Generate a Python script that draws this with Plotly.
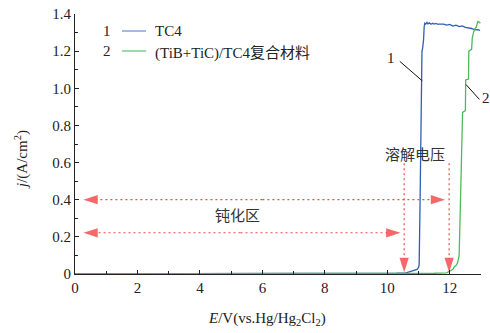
import plotly.graph_objects as go

# ---- data ----
tc4_E = [0, 2, 4, 6, 8, 10, 10.3, 10.6, 10.8, 10.95, 11.0, 11.02, 11.05, 11.08, 11.11, 11.13,
         11.16, 11.18, 11.2, 11.23, 11.27, 11.3, 11.35, 11.4, 11.45, 11.5, 11.55, 11.6, 11.7,
         11.8, 11.9, 12.0, 12.1, 12.2, 12.3, 12.4, 12.5, 12.6, 12.7, 12.8, 12.9, 12.97]
tc4_j = [0, 0, 0.001, 0.002, 0.002, 0.003, 0.004, 0.006, 0.015, 0.025, 0.035, 0.05, 0.4, 0.9,
         1.2, 1.215, 1.26, 1.33, 1.35, 1.346, 1.355, 1.347, 1.352, 1.345, 1.35, 1.346, 1.349,
         1.346, 1.347, 1.345, 1.34, 1.344, 1.335, 1.34, 1.332, 1.336, 1.328, 1.326, 1.322,
         1.315, 1.316, 1.312]

comp_E = [0, 2, 4, 6, 8, 10, 11, 11.5, 11.9, 12.0, 12.1, 12.15, 12.2, 12.25, 12.3, 12.33,
          12.36, 12.38, 12.4, 12.41, 12.5, 12.51, 12.6, 12.61, 12.7, 12.72, 12.76, 12.8,
          12.85, 12.9, 12.95, 12.98]
comp_j = [0, 0, 0, 0, 0, 0.001, 0.002, 0.004, 0.006, 0.015, 0.025, 0.04, 0.045, 0.06, 0.1,
          0.3, 0.55, 0.57, 0.85, 0.87, 0.88, 1.045, 1.05, 1.2, 1.21, 1.27, 1.3, 1.32, 1.33,
          1.36, 1.355, 1.35]

series_names = ["TC4", "(TiB+TiC)/TC4复合材料"]
series_labels = ["1", "2"]
x_ticks = [0, 2, 4, 6, 8, 10, 12]
y_ticks = [0, 0.2, 0.4, 0.6, 0.8, 1.0, 1.2, 1.4]
y_ticktext = ["0", "0.2", "0.4", "0.6", "0.8", "1.0", "1.2", "1.4"]

BLUE = "#2f5fb5"
GREEN = "#4dbb5c"
RED = "#ee2a2a"
SERIF = "Liberation Serif, serif"
CJK = "Noto Sans CJK SC, sans-serif"
TXT = "#222222"

# plot-area pixel geometry (used to place paper-referenced legend/title text)
L, R, T, B = 75, 481, 14, 274


def px_x(p):
    return (p - L) / (R - L)


def px_y(p):
    return (B - p) / (B - T)


def cjk_wrap(s):
    # render CJK characters with a CJK font, Latin with the serif font
    out = []
    for ch in s:
        if ord(ch) > 0x2E80:
            out.append("<span style='font-family:Noto Sans CJK SC'>" + ch + "</span>")
        else:
            out.append(ch)
    return "".join(out)


fig = go.Figure()
fig.add_trace(go.Scatter(x=tc4_E, y=tc4_j, mode="lines", line=dict(color=BLUE, width=1.3),
                         name=series_names[0], showlegend=False))
fig.add_trace(go.Scatter(x=comp_E, y=comp_j, mode="lines", line=dict(color=GREEN, width=1.3),
                         name=series_names[1], showlegend=False))

# dashed red arrows: (start, tip)
arrows = [
    ((6.0, 0.4), (0.27, 0.4)), ((6.0, 0.4), (11.85, 0.4)),
    ((5.3, 0.222), (0.27, 0.222)), ((5.3, 0.222), (10.42, 0.222)),
    ((10.54, 0.597), (10.54, 0.01)), ((11.98, 0.597), (11.98, 0.01)),
]
for (x0, y0), (x1, y1) in arrows:
    fig.add_trace(go.Scatter(
        x=[x0, x1], y=[y0, y1], mode="lines+markers", showlegend=False, hoverinfo="skip",
        line=dict(color="#f24a4a", width=1.2, dash="2px,3px"),
        marker=dict(symbol="arrow", size=[0, 15], angleref="previous", color=RED,
                    line=dict(width=0))))

# text labels
fig.add_annotation(x=10.9, y=0.65, xref="x", yref="y", text="溶解电压", showarrow=False,
                   font=dict(family=CJK, size=15, color="#333"))
fig.add_annotation(x=5.2, y=0.322, xref="x", yref="y", text="钝化区", showarrow=False,
                   font=dict(family=CJK, size=15, color="#333"))

# curve labels with leader lines
fig.add_shape(type="line", x0=10.4, y0=1.145, x1=11.12, y1=1.04, xref="x", yref="y",
              line=dict(color="#111", width=1))
fig.add_annotation(x=10.12, y=1.165, xref="x", yref="y", text=series_labels[0],
                   showarrow=False, font=dict(family=SERIF, size=15, color=TXT))
fig.add_shape(type="line", x0=12.52, y0=1.02, x1=12.95, y1=0.94, xref="x", yref="y",
              line=dict(color="#111", width=1))
fig.add_annotation(x=px_x(486), y=px_y(98), xref="paper", yref="paper",
                   xanchor="center", yanchor="middle", text=series_labels[1],
                   showarrow=False, font=dict(family=SERIF, size=15, color=TXT))

# custom legend
leg = [(series_labels[0], series_names[0], "#86a3d8", 31),
       (series_labels[1], series_names[1], "#7fcf8c", 51)]
for num, name, col, ypx in leg:
    yp = px_y(ypx)
    fig.add_annotation(x=px_x(107), y=yp, xref="paper", yref="paper", text=num,
                       xanchor="center", yanchor="middle", showarrow=False,
                       font=dict(family=SERIF, size=15, color=TXT))
    fig.add_shape(type="line", x0=px_x(122), x1=px_x(146), y0=yp, y1=yp,
                  xref="paper", yref="paper", line=dict(color=col, width=1.5))
    fig.add_annotation(x=px_x(153), y=yp, xref="paper", yref="paper", text=cjk_wrap(name),
                       showarrow=False, xanchor="left", yanchor="middle",
                       font=dict(family=SERIF, size=15, color=TXT))

# axis titles
fig.add_annotation(x=px_x(267), y=px_y(319), xref="paper", yref="paper",
                   xanchor="center", yanchor="middle",
                   text="<i>E</i>/V(vs.Hg/Hg<sub>2</sub>Cl<sub>2</sub>)", showarrow=False,
                   font=dict(family=SERIF, size=15, color=TXT))
fig.add_annotation(x=px_x(21), y=px_y(160), xref="paper", yref="paper",
                   xanchor="center", yanchor="middle",
                   text="<i>j</i>/(A/cm<sup>2</sup>)", showarrow=False, textangle=-90,
                   font=dict(family=SERIF, size=15, color=TXT))

fig.update_xaxes(range=[0, 13], tickvals=x_ticks, ticks="inside", ticklen=4, tickwidth=1,
                 tickcolor=TXT, showline=True, linecolor=TXT, linewidth=1,
                 showgrid=False, zeroline=False, automargin=False,
                 minor=dict(dtick=1, ticks="inside", ticklen=3, tickcolor=TXT),
                 tickfont=dict(family=SERIF, size=15, color=TXT))
fig.update_yaxes(range=[0, 1.4], tickvals=y_ticks, ticktext=y_ticktext, ticks="inside",
                 ticklen=4, tickwidth=1, tickcolor=TXT, showline=True, linecolor=TXT,
                 linewidth=1, showgrid=False, zeroline=False, automargin=False,
                 minor=dict(dtick=0.1, ticks="inside", ticklen=3, tickcolor=TXT),
                 tickfont=dict(family=SERIF, size=15, color=TXT))

fig.update_layout(width=490, height=333,
                  margin=dict(l=L, r=490 - R, t=T, b=333 - B, autoexpand=False),
                  plot_bgcolor="white", paper_bgcolor="white", showlegend=False)

fig.write_html("out.html", config={"displayModeBar": False},
               post_script="document.body.style.margin='0px';")
